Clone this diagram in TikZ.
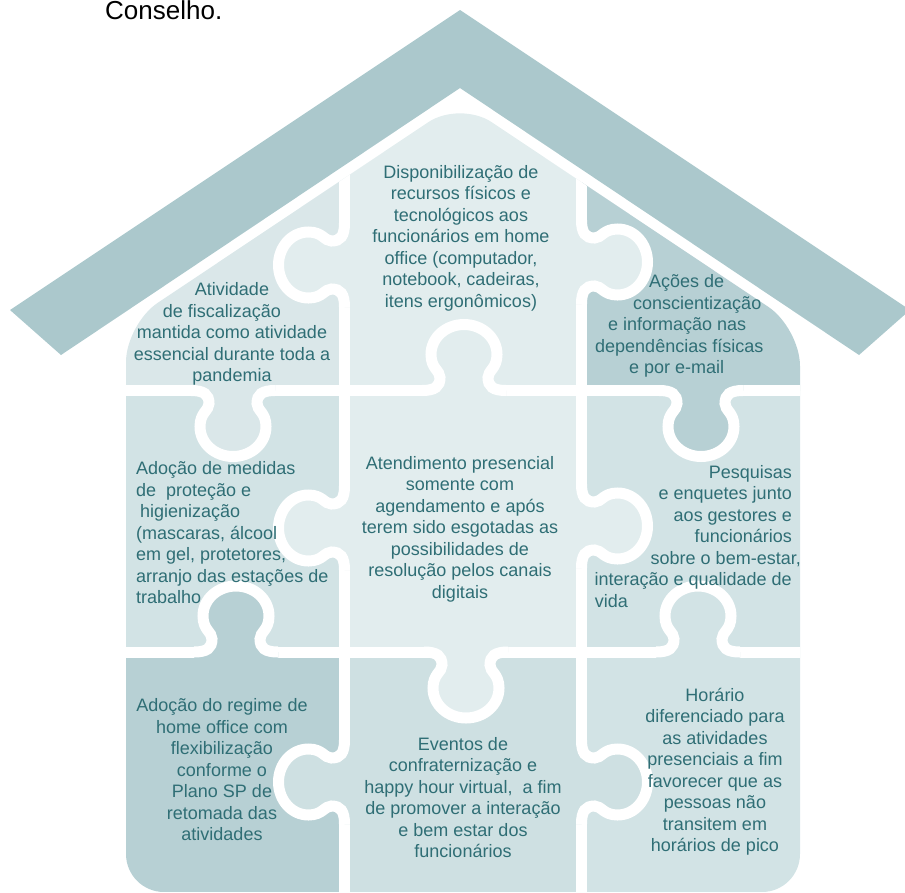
\documentclass[tikz,border=0pt]{standalone}
\usepackage{fontspec}
\setmainfont{Liberation Sans}
\usepackage{xcolor}

\definecolor{houseRoof}{HTML}{ABC8CC}
\definecolor{housePale}{HTML}{E2EDEE}
\definecolor{houseLight}{HTML}{DAE7E9}
\definecolor{houseSoft}{HTML}{D2E3E5}
\definecolor{houseSofter}{HTML}{CEE0E2}
\definecolor{houseMid}{HTML}{B7D0D4}
\definecolor{houseInk}{HTML}{2F6E75}

\tikzset{
  seam/.style={draw=white, line width=11pt},
  txt/.style={text=houseInk, font=\fontsize{18}{21.5}\selectfont, align=center, inner sep=0pt},
  pics/knob/.style={code={
    \fill[fill=#1] (-42,-7) -- (-42,0) .. controls (-29,0) and (-24,4) .. (-24,13)
      .. controls (-24,20) and (-33,22) .. (-33,36)
      .. controls (-33,53) and (-18,66) .. (0,66)
      .. controls (18,66) and (33,53) .. (33,36)
      .. controls (33,22) and (24,20) .. (24,13)
      .. controls (24,4) and (29,0) .. (42,0) -- (42,-7) -- cycle;
    \draw[seam] (-42,0) .. controls (-29,0) and (-24,4) .. (-24,13)
      .. controls (-24,20) and (-33,22) .. (-33,36)
      .. controls (-33,53) and (-18,66) .. (0,66)
      .. controls (18,66) and (33,53) .. (33,36)
      .. controls (33,22) and (24,20) .. (24,13)
      .. controls (24,4) and (29,0) .. (42,0);
  }}
}

\begin{document}
\begin{tikzpicture}[x=1pt, y=-1pt]
\useasboundingbox (0,0) rectangle (905,892);

\fill[houseRoof] (10,310) -- (460,10) -- (910,310) -- (859,355) -- (460,88) -- (61,355) -- cycle;

\begin{scope}
\clip[rounded corners=38] (126,600) -- (126,324) -- (460,101) -- (800,328) -- (800,892) -- (126,892) -- cycle;
\fill[houseLight] (0,0) rectangle (344.5,390.5);
\fill[housePale] (344.5,0) rectangle (581.5,390.5);
\fill[houseMid] (581.5,0) rectangle (905,390.5);
\fill[houseSoft] (0,390.5) rectangle (344.5,652);
\fill[housePale] (344.5,390.5) rectangle (581.5,652);
\fill[houseSoft] (581.5,390.5) rectangle (905,652);
\fill[houseMid] (0,652) rectangle (344.5,892);
\fill[houseSofter] (344.5,652) rectangle (581.5,892);
\fill[houseSoft] (581.5,652) rectangle (905,892);

\draw[seam] (344.5,0) -- (344.5,892);
\draw[seam] (581.5,0) -- (581.5,892);
\draw[seam] (0,390.5) -- (905,390.5);
\draw[seam] (0,652) -- (905,652);

\pic[rotate=-90] at (344.5,265) {knob=housePale};
\pic[rotate=-90] at (344.5,528) {knob=housePale};
\pic[rotate=-90] at (344.5,782) {knob=houseSofter};
\pic[rotate=90] at (581.5,262) {knob=housePale};
\pic[rotate=90] at (581.5,526) {knob=housePale};
\pic[rotate=90] at (581.5,782) {knob=houseSofter};
\pic at (233,390.5) {knob=houseLight};
\pic[rotate=180] at (464,390.5) {knob=housePale};
\pic at (701,390.5) {knob=houseMid};
\pic[rotate=180] at (236,652) {knob=houseMid};
\pic at (466,652) {knob=housePale};
\pic[rotate=180] at (698,652) {knob=houseSoft};
\end{scope}

\node[anchor=base west, inner sep=0pt, font=\fontsize{26}{30}\selectfont] (conselho) at (105,19) {Conselho.};

\node[txt] (fiscalizacao) at (232,334) {Atividade \\ de fiscalização\hspace*{20pt} \\ mantida como atividade \\ essencial durante toda a \\ pandemia};
\node[txt] (recursos) at (461,238) {Disponibilização de \\ recursos físicos e \\ tecnológicos aos \\ funcionários em home \\ office (computador, \\ notebook, cadeiras, \\ itens ergonômicos)};
\node[txt, align=left, anchor=west] (acoes) at (595,326) {\hspace*{54pt}Ações de \\ \hspace*{38pt}conscientização \\ \hspace*{13pt}e informação nas \\ dependências físicas \\ \hspace*{34pt}e por e-mail};

\node[txt, align=left, anchor=west] (medidas) at (136,533) {Adoção de medidas \\ de\ \ proteção e \\ \hspace*{4pt}higienização \\ (mascaras, álcool \\ em gel, protetores, \\ arranjo das estações de \\ trabalho};
\node[txt] (atendimento) at (460,529) {Atendimento presencial \\ somente com \\ agendamento e após \\ terem sido esgotadas as \\ possibilidades de \\ resolução pelos canais \\ digitais};
\node[txt, align=right, anchor=east] (pesquisas) at (792,536.5) {Pesquisas \\ e enquetes junto \\ aos gestores e \\ funcionários \\ sobre o bem-estar,\hspace*{-9pt} \\ interação e qualidade de \\ \makebox[197pt][l]{vida}};

\node[txt] (regime) at (222,770) {Adoção do regime de \\ home office com \\ flexibilização \\ conforme o \\ Plano SP de \\ retomada das \\ atividades};
\node[txt] (eventos) at (463,797.5) {Eventos de \\ confraternização e \\ happy hour virtual,\ \ a fim \\ de promover a interação \\ e bem estar dos \\ funcionários};
\node[txt] (horario) at (715,771.5) {Horário \\ diferenciado para \\ as atividades \\ presenciais a fim \\ favorecer que as \\ pessoas não \\ transitem em \\ horários de pico};
\end{tikzpicture}
\end{document}
